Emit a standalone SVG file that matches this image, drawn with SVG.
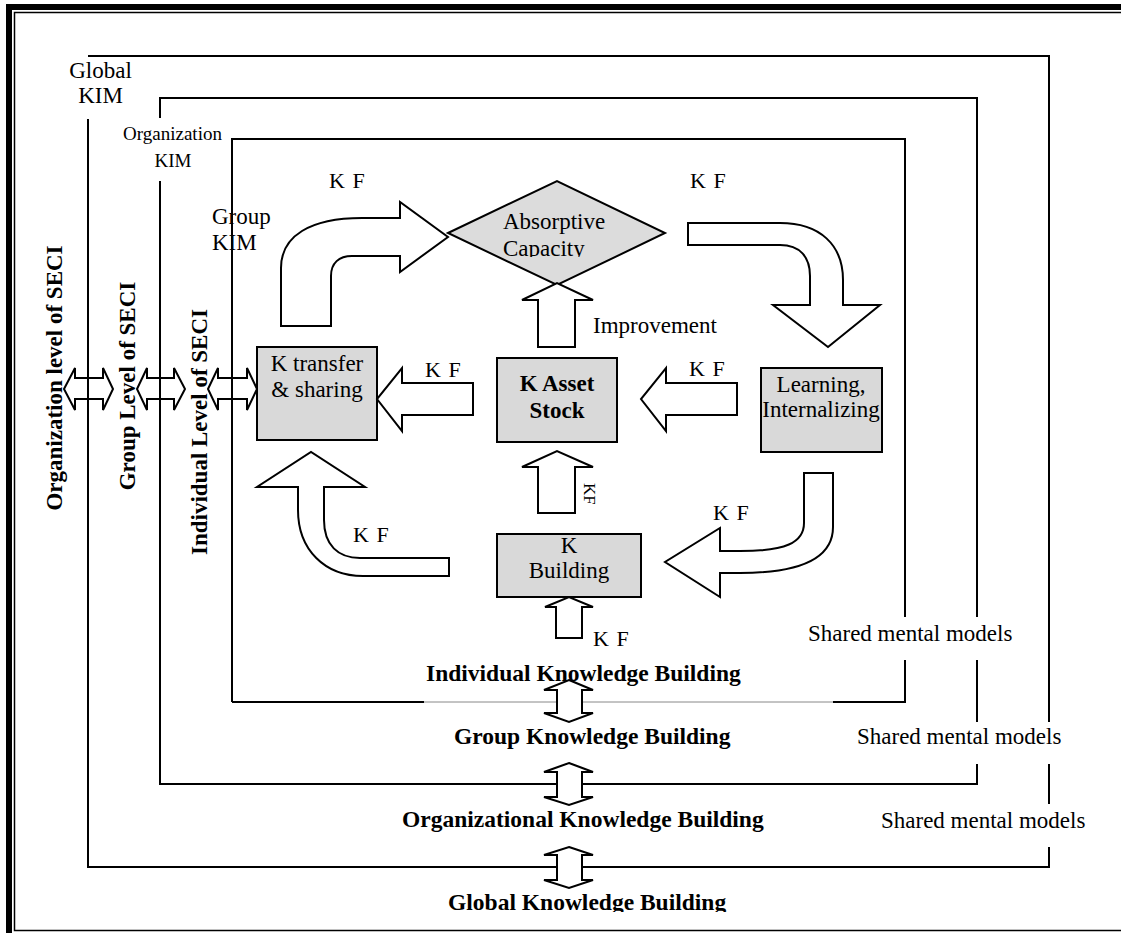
<svg xmlns="http://www.w3.org/2000/svg" width="1121" height="933" viewBox="0 0 1121 933">
  <style>
    .t { font-family: "Liberation Serif", "Times New Roman", serif; fill: #000; }
    .n { font-size: 23px; }
    .s { font-size: 19px; }
    .b { font-size: 23px; font-weight: bold; }
    .lv { font-size: 23.5px; font-weight: bold; }
    .kf { font-size: 22px; word-spacing: 2px; }
    .mid { text-anchor: middle; }
    .frame { fill: none; stroke: #000; }
    .edge { fill: none; stroke: #000; stroke-width: 2; }
    .box { fill: #d9d9d9; stroke: #000; stroke-width: 2; }
    .arrow { fill: #fff; stroke: #000; stroke-width: 2; stroke-linejoin: miter; }
    .arrow-open { fill: none; stroke: #000; stroke-width: 2; }
  </style>
  <defs>
    <clipPath id="clip-diamond-text"><rect x="440" y="190" width="240" height="67"/></clipPath>
    <clipPath id="clip-global-label"><rect x="380" y="880" width="400" height="32"/></clipPath>
  </defs>

  <rect width="1121" height="933" fill="#fff"/>

  <!-- page frame: heavy outer rule and thin inner rule -->
  <rect class="frame" x="9" y="7" width="1130" height="940" stroke-width="6"/>
  <rect class="frame" x="14.5" y="12.5" width="1120" height="918" stroke-width="1.5"/>

  <!-- nested KIM boundaries -->
  <g id="global-kim">
    <path class="edge" d="M88,56 H1049 V722 M1049,764 V804 M1049,847 V867 H88 V119"/>
    <text class="t n mid" x="100.5" y="78">Global</text>
    <text class="t n mid" x="100.5" y="103">KIM</text>
  </g>
  <g id="organization-kim">
    <path class="edge" d="M160,118 V98 H977 V617 M977,660 V722 M977,764 V784 H160 V181"/>
    <text class="t s mid" x="172.5" y="140">Organization</text>
    <text class="t s mid" x="173" y="167">KIM</text>
  </g>
  <g id="group-kim">
    <path class="edge" d="M232,702 V139 H905 V617 M905,660 V702 H833"/>
    <path class="edge" d="M232,702 H424"/>
    <path d="M424,702 H833" stroke="#888" stroke-width="1" fill="none"/>
    <text class="t n" x="212" y="224">Group</text>
    <text class="t n" x="212" y="250">KIM</text>
  </g>

  <!-- level labels -->
  <g id="seci-labels">
    <text class="t b mid" transform="translate(62,378) rotate(-90)">Organization level of SECI</text>
    <text class="t b mid" transform="translate(135,386) rotate(-90)">Group Level of SECI</text>
    <text class="t b mid" transform="translate(207,432) rotate(-90)">Individual Level of SECI</text>
  </g>

  <g id="shared-mental-models">
    <text class="t n" x="808" y="641">Shared mental models</text>
    <text class="t n" x="857" y="744">Shared mental models</text>
    <text class="t n" x="881" y="828">Shared mental models</text>
  </g>

  <g id="building-labels">
    <text class="t lv" x="426" y="681">Individual Knowledge Building</text>
    <text class="t lv" x="454" y="744">Group Knowledge Building</text>
    <text class="t lv" x="402" y="827">Organizational Knowledge Building</text>
    <text class="t lv" x="448" y="910" clip-path="url(#clip-global-label)">Global Knowledge Building</text>
  </g>

  <!-- process nodes -->
  <g id="absorptive-capacity">
    <polygon points="448,233 557,181 665,233 557,285" fill="#dcdcdc" stroke="#000" stroke-width="2"/>
    <g clip-path="url(#clip-diamond-text)">
      <text class="t n" x="503" y="229" fill="#222">Absorptive</text>
      <text class="t n" x="503" y="256" fill="#222">Capacity</text>
    </g>
  </g>
  <g id="k-transfer">
    <rect class="box" x="257" y="347" width="120" height="93"/>
    <text class="t n mid" x="317" y="371">K transfer</text>
    <text class="t n mid" x="317" y="397">&amp; sharing</text>
  </g>
  <g id="k-asset-stock">
    <rect class="box" x="497" y="358" width="120" height="84"/>
    <text class="t b mid" x="557" y="391">K Asset</text>
    <text class="t b mid" x="557" y="418">Stock</text>
  </g>
  <g id="learning">
    <rect class="box" x="761" y="368" width="121" height="84"/>
    <text class="t n mid" x="821" y="392">Learning,</text>
    <text class="t n mid" x="821" y="417">Internalizing</text>
  </g>
  <g id="k-building">
    <rect class="box" x="497" y="534" width="144" height="63"/>
    <text class="t n mid" x="569" y="553">K</text>
    <text class="t n mid" x="569" y="578">Building</text>
  </g>

  <!-- block-arrow connectors -->
  <g id="connectors">
    <!-- K transfer -> Absorptive Capacity -->
    <path class="arrow" d="M281,326 L281,268 C281,236 310,218 362,218 L400,218 L400,202 L448,237 L400,272 L400,256 L352,256 C339,256 331,263 331,276 L331,326 Z"/>
    <!-- Absorptive Capacity -> Learning -->
    <path class="arrow" d="M688,223 L780,223 C820,223 843,245 843,280 L843,305 L880,305 L828,347 L773,305 L810,305 L810,276 C810,257 800,245 780,245 L688,245 Z"/>
    <!-- Learning -> K Building -->
    <path class="arrow" d="M804,473 L833,473 L833,527 C833,558 800,573 740,573 L720,573 L720,597 L665,562 L720,528 L720,551 L740,551 C785,551 804,543 804,523 Z"/>
    <!-- K Building -> K transfer -->
    <path class="arrow" d="M449,558 L360,558 C338,558 324,545 324,520 L324,487 L365,487 L311,452 L257,487 L298,487 L298,510 C298,550 325,576 363,576 L449,576 Z"/>
    <!-- K Asset Stock -> K transfer -->
    <path class="arrow" d="M473,383 L402,383 L402,368 L377,399 L402,431 L402,415 L473,415 Z"/>
    <!-- Learning -> K Asset Stock -->
    <path class="arrow" d="M737,383 L666,383 L666,368 L641,399 L666,431 L666,415 L737,415 Z"/>
    <!-- K Asset Stock -> Absorptive Capacity -->
    <path class="arrow" d="M538,347 L538,300 L522,300 L557,283 L593,300 L575,300 L575,347 Z"/>
    <!-- K Building -> K Asset Stock -->
    <path class="arrow" d="M538,513 L538,467 L522,467 L557,451 L593,467 L575,467 L575,513 Z"/>
    <!-- input into K Building -->
    <path class="arrow" d="M556,638 L556,607 L545,607 L569,597 L593,607 L582,607 L582,638 Z"/>

    <!-- horizontal two-way arrows between SECI levels -->
    <path class="arrow-open" d="M64,389 L75,368 L75,378 L103,378 L103,368 L113,389 L103,410 L103,399 L75,399 L75,410 Z"/>
    <path class="arrow-open" d="M137,389 L147,368 L147,378 L174,378 L174,368 L185,389 L174,410 L174,399 L147,399 L147,410 Z"/>
    <path class="arrow-open" d="M208,389 L218,368 L218,378 L247,378 L247,368 L257,389 L247,410 L247,399 L218,399 L218,410 Z"/>

    <!-- vertical two-way arrows between building levels -->
    <path class="arrow" d="M569,680 L593,690 L582,690 L582,713 L593,713 L569,722 L544,713 L557,713 L557,690 L544,690 Z"/>
    <path class="arrow" d="M569,763 L593,772 L582,772 L582,797 L593,797 L569,805 L544,797 L557,797 L557,772 L544,772 Z"/>
    <path class="arrow" d="M569,847 L593,855 L582,855 L582,880 L593,880 L569,888 L544,880 L557,880 L557,855 L544,855 Z"/>
  </g>

  <!-- flow labels -->
  <g id="flow-labels">
    <text class="t kf" x="329" y="188">K F</text>
    <text class="t kf" x="690" y="188">K F</text>
    <text class="t n" x="593" y="333">Improvement</text>
    <text class="t kf" x="425" y="377">K F</text>
    <text class="t kf" x="689" y="376">K F</text>
    <text class="t" font-size="17" transform="translate(584,483) rotate(90)">KF</text>
    <text class="t kf" x="353" y="542">K F</text>
    <text class="t kf" x="713" y="520">K F</text>
    <text class="t kf" x="593" y="646">K F</text>
  </g>
</svg>
